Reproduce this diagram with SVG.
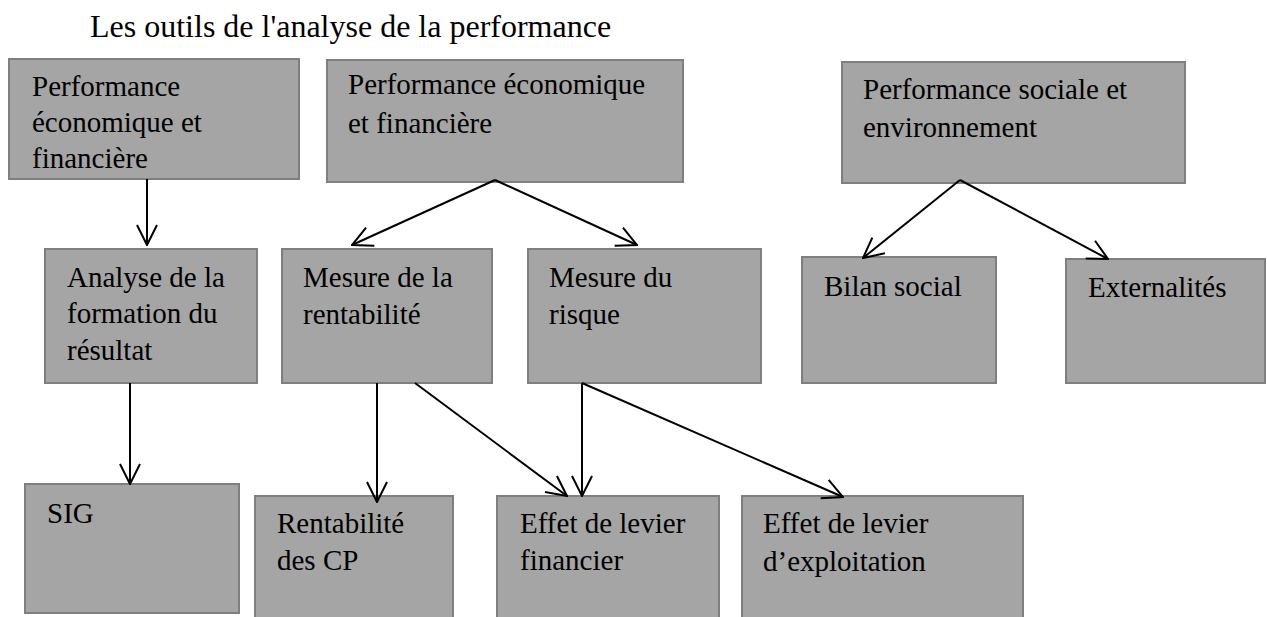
<svg xmlns="http://www.w3.org/2000/svg" width="1267" height="617" viewBox="0 0 1267 617">
<style>
.box{fill:#a5a5a5;stroke:#7f7f7f;stroke-width:2}
.lbl{font-family:'Liberation Serif','Times New Roman',serif;font-size:29px;fill:#000}
.title{font-family:'Liberation Serif','Times New Roman',serif;font-size:32px;fill:#000}
.c{stroke:#000;stroke-width:2;fill:none;marker-end:url(#arr)}
</style>
<defs>
<marker id="arr" viewBox="0 0 22 22" refX="21" refY="11" markerWidth="22" markerHeight="22" markerUnits="userSpaceOnUse" orient="auto">
<path d="M1,1 L21,11 L1,21" fill="none" stroke="#000" stroke-width="2"/>
</marker>
</defs>
<rect width="1267" height="617" fill="#fff"/>
<text class="title" x="90" y="37">Les outils de l'analyse de la performance</text>

<g id="n-perf-eco-1"><rect class="box" x="9" y="59" width="290" height="120"/>
<text class="lbl" x="32" y="96">Performance</text><text class="lbl" x="32" y="132">économique et</text><text class="lbl" x="32" y="168">financière</text></g>
<g id="n-perf-eco-2"><rect class="box" x="327" y="60" width="356" height="122"/>
<text class="lbl" x="348" y="94">Performance économique</text><text class="lbl" x="348" y="133">et financière</text></g>
<g id="n-perf-soc"><rect class="box" x="842" y="62" width="343" height="121"/>
<text class="lbl" x="863" y="99">Performance sociale et</text><text class="lbl" x="863" y="137">environnement</text></g>
<g id="n-analyse"><rect class="box" x="45" y="249" width="212" height="134"/>
<text class="lbl" x="67" y="287">Analyse de la</text><text class="lbl" x="67" y="323">formation du</text><text class="lbl" x="67" y="360">résultat</text></g>
<g id="n-rentab"><rect class="box" x="282" y="249" width="210" height="134"/>
<text class="lbl" x="303" y="287">Mesure de la</text><text class="lbl" x="303" y="324">rentabilité</text></g>
<g id="n-risque"><rect class="box" x="528" y="249" width="233" height="134"/>
<text class="lbl" x="549" y="287">Mesure du</text><text class="lbl" x="549" y="324">risque</text></g>
<g id="n-bilan"><rect class="box" x="802" y="257" width="194" height="126"/>
<text class="lbl" x="824" y="296">Bilan social</text></g>
<g id="n-ext"><rect class="box" x="1066" y="259" width="199" height="124"/>
<text class="lbl" x="1088" y="297">Externalités</text></g>
<g id="n-sig"><rect class="box" x="25" y="484" width="214" height="129"/>
<text class="lbl" x="47" y="523">SIG</text></g>
<g id="n-rcp"><rect class="box" x="255" y="496" width="198" height="130"/>
<text class="lbl" x="277" y="533">Rentabilité</text><text class="lbl" x="277" y="570">des CP</text></g>
<g id="n-elf"><rect class="box" x="497" y="496" width="222" height="130"/>
<text class="lbl" x="520" y="533">Effet de levier</text><text class="lbl" x="520" y="570">financier</text></g>
<g id="n-ele"><rect class="box" x="742" y="496" width="281" height="130"/>
<text class="lbl" x="763" y="533">Effet de levier</text><text class="lbl" x="763" y="571">d’exploitation</text></g>

<g id="connectors">
<line class="c" x1="147" y1="179" x2="147" y2="245"/>
<line class="c" x1="495" y1="180" x2="352" y2="245"/>
<line class="c" x1="495" y1="180" x2="637" y2="245"/>
<line class="c" x1="960" y1="180" x2="863" y2="258"/>
<line class="c" x1="960" y1="180" x2="1108" y2="259"/>
<line class="c" x1="130" y1="383" x2="130" y2="484"/>
<line class="c" x1="377" y1="383" x2="377" y2="502"/>
<line class="c" x1="415" y1="383" x2="567" y2="496"/>
<line class="c" x1="582" y1="383" x2="582" y2="496"/>
<line class="c" x1="582" y1="383" x2="843" y2="497"/>
</g>
</svg>
